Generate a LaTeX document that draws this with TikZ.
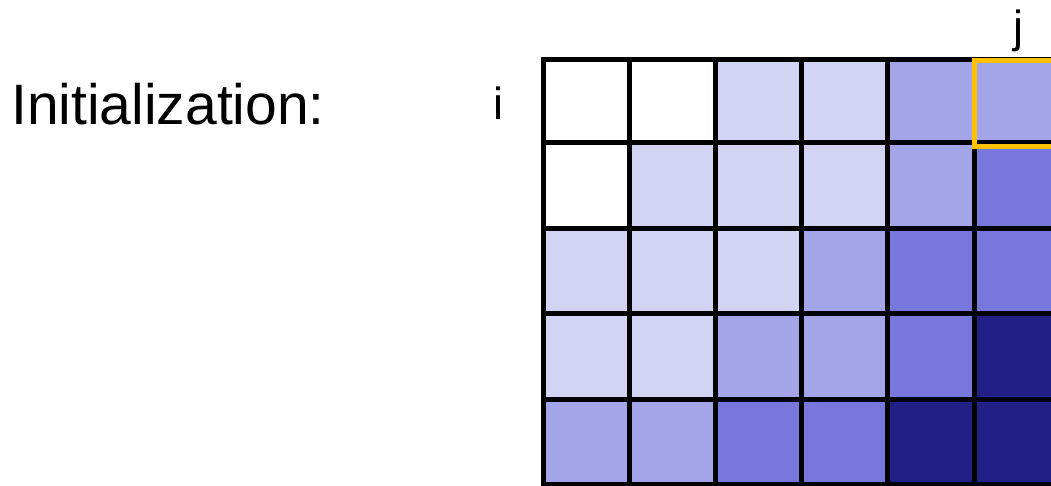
\documentclass[tikz,border=0pt]{standalone}
\usepackage{fontspec}
\setmainfont{Liberation Sans}
\definecolor{cW}{RGB}{255,255,255}
\definecolor{cL}{RGB}{211,211,243}
\definecolor{cM}{RGB}{164,164,232}
\definecolor{cD}{RGB}{120,120,220}
\definecolor{cN}{RGB}{32,32,135}
\definecolor{sel}{RGB}{255,192,0}
\tikzset{
  gridcell/.style={draw=black, line width=5pt},
  selbox/.style={draw=sel, line width=5pt},
  lbl/.style={anchor=base, inner sep=0pt, font=\fontsize{45}{50}\selectfont}
}
\begin{document}
\begin{tikzpicture}[x=1pt,y=-1pt]
\useasboundingbox (0,0) rectangle (1051,485);
\clip (0,0) rectangle (1051,485);
\foreach \r/\row in {0/{cW,cW,cL,cL,cM,cM},1/{cW,cL,cL,cL,cM,cD},2/{cL,cL,cL,cM,cD,cD},3/{cL,cL,cM,cM,cD,cN},4/{cM,cM,cD,cD,cN,cN}}{
  \foreach \c [count=\k from 0] in \row {
    \pgfmathsetmacro{\ya}{{59.5,142.5,228.5,313.5,399,484.5}[\r]}
    \pgfmathsetmacro{\yb}{{59.5,142.5,228.5,313.5,399,484.5}[\r+1]}
    \pgfmathsetmacro{\xa}{543.5+86.1*\k}
    \pgfmathsetmacro{\xb}{543.5+86.1*(\k+1)}
    \fill[\c] (\xa,\ya) rectangle (\xb,\yb);
  }
}
\foreach \r in {0,...,4}{
  \foreach \k in {0,...,5}{
    \pgfmathsetmacro{\ya}{{59.5,142.5,228.5,313.5,399,484.5}[\r]}
    \pgfmathsetmacro{\yb}{{59.5,142.5,228.5,313.5,399,484.5}[\r+1]}
    \pgfmathsetmacro{\xa}{543.5+86.1*\k}
    \pgfmathsetmacro{\xb}{543.5+86.1*(\k+1)}
    \draw[gridcell] (\xa,\ya) rectangle (\xb,\yb);
  }
}
\draw[selbox] (974.5,60.5) rectangle (1064,146);
\node[anchor=base west, inner sep=0pt, font=\fontsize{57}{60}\selectfont] (title) at (11,124) {Initialization:};
\node[lbl] (ilab) at (498,119) {i};
\node[lbl] (jlab) at (1018,42) {j};
\end{tikzpicture}
\end{document}
